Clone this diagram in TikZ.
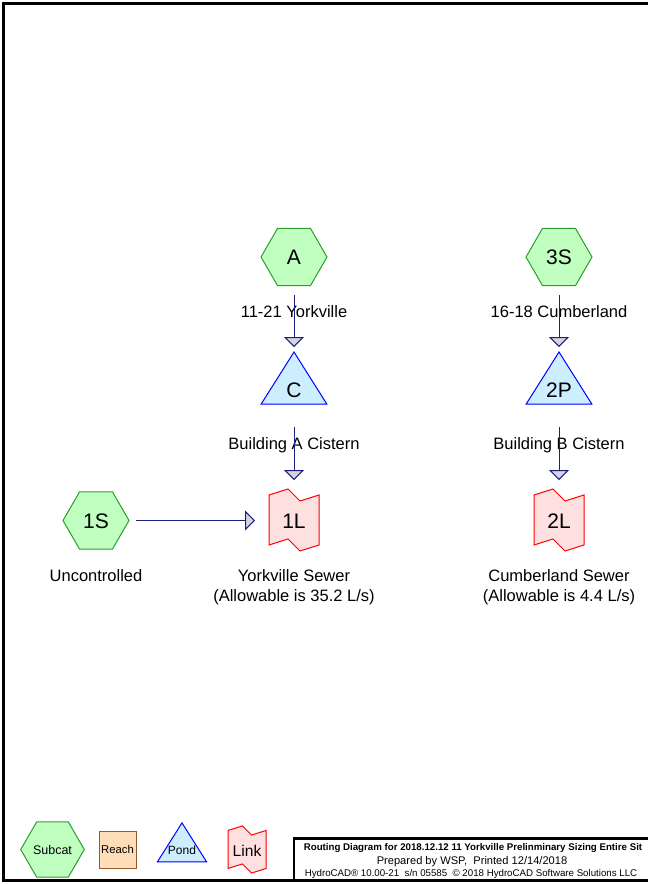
\documentclass[tikz,border=0pt]{standalone}
\usepackage{fontspec}
\setmainfont{Liberation Sans}
\usetikzlibrary{shapes.geometric,arrows.meta,calc}
\definecolor{subfill}{RGB}{192,255,192}
\definecolor{subdraw}{RGB}{40,160,40}
\definecolor{pondfill}{RGB}{204,238,255}
\definecolor{ponddraw}{RGB}{0,0,255}
\definecolor{linkfill}{RGB}{255,224,224}
\definecolor{linkdraw}{RGB}{255,0,0}
\definecolor{reachfill}{RGB}{255,221,184}
\definecolor{reachdraw}{RGB}{150,90,40}
\definecolor{flowcol}{RGB}{30,30,130}
\definecolor{tipfill}{RGB}{212,212,220}
\tikzset{
  bigtxt/.style={inner sep=0pt, font=\fontsize{21}{21}\selectfont, text height=15pt, text depth=0pt},
  subcat/.style={bigtxt, regular polygon, regular polygon sides=6, minimum size=66pt,
    fill=subfill, draw=subdraw, line width=1pt},
  lbl/.style={inner sep=0pt, anchor=base, font=\fontsize{16.5}{18}\selectfont},
  flow/.style={draw=flowcol, line width=1pt, -{Triangle[length=10pt,width=20pt,fill=tipfill]}},
  pondsty/.style={fill=pondfill, draw=ponddraw, line width=1pt, line join=miter},
  linksty/.style={fill=linkfill, draw=linkdraw, line width=1pt, line join=miter},
  pics/pondshape/.style={code={\filldraw[pondsty] (0,-37.5) -- (32.8,14.5) -- (-32.8,14.5) -- cycle;}},
  pics/linkshape/.style={code={\filldraw[linksty] (-25,-27) -- (-6,-33) -- (6,-21) -- (25,-27)
     -- (25,23) -- (6,29) -- (-6,17) -- (-25,23) -- cycle;}},
  frame/.style={draw=black, line width=2.5pt},
  legtxt/.style={inner sep=0pt, text depth=0pt},
}
\begin{document}
\begin{tikzpicture}[x=1pt,y=-1pt]
\clip (0,0) rectangle (648,884);
\fill[white] (0,0) rectangle (648,884);
\draw[frame] (3.5,3.5) rectangle (660,880.5);
\draw[frame] (294,838.5) rectangle (660,880.5);

% left column
\node[subcat] (A) at (294,257) {A};
\node[lbl] (lA) at (294,317.5) {11-21 Yorkville};
\pic at (294,389.5) {pondshape};
\node[bigtxt] (C) at (294,389.5) {C};
\node[lbl] (lC) at (294,449.5) {Building A Cistern};
\pic at (294,522) {linkshape};
\node[bigtxt] (1L) at (294,521) {1L};
\node[lbl] (l1La) at (294,581.5) {Yorkville Sewer};
\node[lbl] (l1Lb) at (294,601) {(Allowable is 35.2 L/s)};

\node[subcat] (1S) at (96,520.5) {1S};
\node[lbl] (l1S) at (96,581.5) {Uncontrolled};

% right column
\node[subcat] (3S) at (559,257) {3S};
\node[lbl] (l3S) at (559,317.5) {16-18 Cumberland};
\pic at (559,389.5) {pondshape};
\node[bigtxt] (2P) at (559,389.5) {2P};
\node[lbl] (l2P) at (559,449.5) {Building B Cistern};
\pic at (559,522) {linkshape};
\node[bigtxt] (2L) at (559,521) {2L};
\node[lbl] (l2La) at (559,581.5) {Cumberland Sewer};
\node[lbl] (l2Lb) at (559,601) {(Allowable is 4.4 L/s)};

% connectors
\draw[flow] ([yshift=-38pt]A.center) -- ([yshift=42.5pt]C.center);
\draw[flow] ([yshift=-37.5pt]C.center) -- ([yshift=41pt]1L.center);
\draw[flow] ([xshift=40pt]1S.center) -- ($(1L.center |- 1S.center)+(-39,0)$);
\draw[flow] ([yshift=-38pt]3S.center) -- ([yshift=42.5pt]2P.center);
\draw[flow] ([yshift=-37.5pt]2P.center) -- ([yshift=41pt]2L.center);

% legend
\node[regular polygon, regular polygon sides=6, minimum size=49pt, inner sep=0pt,
  fill=subfill, draw=subdraw, line width=1pt, font=\fontsize{12.5}{12.5}\selectfont,
  text height=9pt, text depth=0pt] (legS) at (52.5,849.5) {Subcat};
\node[rectangle, minimum width=37pt, minimum height=37pt, inner sep=0pt,
  fill=reachfill, draw=reachdraw, line width=1pt, font=\fontsize{11.3}{11.3}\selectfont,
  text height=8pt, text depth=0pt] (legR) at (117.5,849.5) {Reach};
\pic[scale=0.75] at (182,851) {pondshape};
\node[legtxt, font=\fontsize{12}{12}\selectfont, text height=8.6pt] (legP) at (182,850.5) {Pond};
\pic[scale=0.76] at (247,851) {linkshape};
\node[legtxt, font=\fontsize{15.6}{15.6}\selectfont, text height=11.2pt] (legL) at (247,850.5) {Link};

% title block
\node[inner sep=0pt, anchor=base, font=\bfseries\fontsize{9.7}{10}\selectfont] (t1) at (473,850.5)
  {Routing Diagram for 2018.12.12 11 Yorkville Prelinminary Sizing Entire Sit};
\node[inner sep=0pt, anchor=base, font=\fontsize{11.1}{12}\selectfont] (t2) at (472,864.3)
  {Prepared by WSP,\ \ Printed 12/14/2018};
\node[inner sep=0pt, anchor=base, font=\fontsize{9.7}{10}\selectfont] (t3) at (471,876.5)
  {HydroCAD® 10.00-21\ \ s/n 05585\ \ © 2018 HydroCAD Software Solutions LLC};
\end{tikzpicture}
\end{document}
